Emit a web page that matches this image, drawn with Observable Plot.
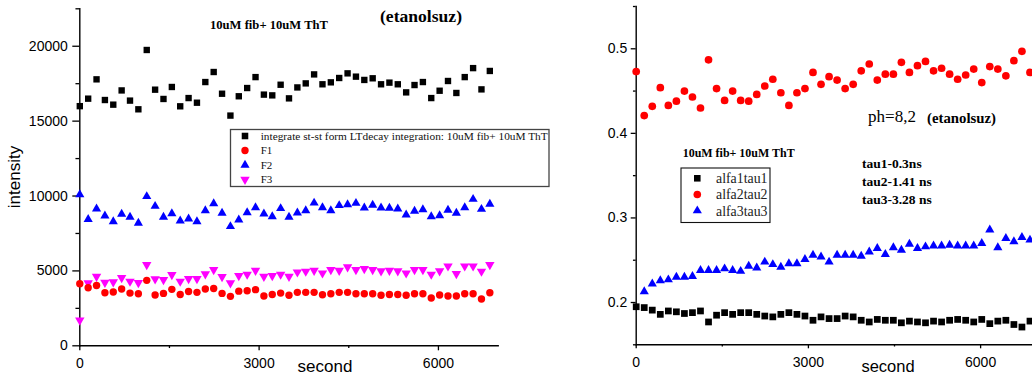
<!DOCTYPE html>
<html>
<head>
<meta charset="utf-8">
<script src="https://cdn.jsdelivr.net/npm/d3@7"></script>
<script src="https://cdn.jsdelivr.net/npm/@observablehq/plot@0.6"></script>
<style>
  html, body { margin: 0; padding: 0; background: #fff; }
  #wrap { position: relative; width: 1032px; height: 376px; overflow: hidden; }
  #wrap > svg { position: absolute; top: 0; max-width: none; }
</style>
</head>
<body>
<div id="wrap"></div>
<script>
// Acquisition times (s), one measurement every 140 s
const seconds = [0,140,280,420,560,700,840,980,1120,1260,1400,1540,1680,1820,1960,2100,2240,2380,2520,2660,2800,2940,3080,3220,3360,3500,3640,3780,3920,4060,4200,4340,4480,4620,4760,4900,5040,5180,5320,5460,5600,5740,5880,6020,6160,6300,6440,6580,6720,6860];

// Left panel: intensities
const integrated = [16000,16500,17790,16410,16100,17050,16370,15790,19750,17100,16480,17280,15990,16540,16230,17610,18280,16830,15370,16660,17210,17940,16770,16720,17430,16520,17250,17520,18120,17460,17590,17880,18190,17970,17750,17860,17460,17570,17460,16920,17410,17610,16540,17030,17680,16880,17940,18540,17120,18350];
const f1 = [4140,3880,4030,3540,3590,3790,3520,3480,4370,3390,3500,3770,3430,3630,3570,3790,3830,3500,3300,3650,3680,3750,3320,3430,3520,3370,3570,3570,3570,3410,3480,3570,3570,3480,3480,3480,3370,3430,3430,3370,3480,3480,3190,3390,3320,3320,3480,3480,3120,3540];
const f2 = [10100,8450,9140,8680,8300,8790,8590,8190,9970,9320,8590,8830,8340,8480,8300,9030,9500,8860,7970,8410,8900,9230,8810,8630,9170,8590,8880,9030,9540,9230,9030,9370,9430,9520,9210,9390,9210,9190,9140,8740,8990,9100,8630,8700,9060,8860,9230,9790,9120,9460];
const f3 = [1700,4190,4630,4230,4260,4540,4300,4210,5410,4460,4410,4740,4300,4480,4480,4790,5080,4610,4190,4680,4770,5030,4630,4680,4770,4630,4920,4970,5030,4850,5080,5030,5260,5080,5140,5080,4990,5030,4990,4850,5080,5080,4770,4990,5320,4810,5320,5320,4970,5410];

// Right panel: amplitude-weighted lifetimes
const alfa1tau1 = [0.195,0.194,0.191,0.186,0.190,0.189,0.187,0.188,0.190,0.177,0.185,0.188,0.186,0.188,0.188,0.186,0.184,0.183,0.186,0.188,0.186,0.184,0.179,0.183,0.181,0.181,0.184,0.183,0.179,0.177,0.180,0.179,0.179,0.176,0.178,0.177,0.176,0.178,0.177,0.179,0.180,0.179,0.177,0.180,0.175,0.178,0.179,0.174,0.171,0.178];
const alfa2tau2 = [0.473,0.421,0.432,0.454,0.433,0.438,0.450,0.443,0.430,0.487,0.453,0.439,0.450,0.439,0.438,0.446,0.456,0.464,0.448,0.433,0.448,0.453,0.472,0.458,0.467,0.463,0.453,0.458,0.474,0.482,0.463,0.470,0.470,0.484,0.472,0.480,0.485,0.474,0.477,0.470,0.464,0.469,0.476,0.460,0.479,0.476,0.468,0.486,0.497,0.472];
const alfa3tau3 = [null,0.213,0.222,0.226,0.227,0.230,0.230,0.231,0.238,0.238,0.238,0.240,0.238,0.237,0.243,0.241,0.248,0.245,0.242,0.246,0.246,0.251,0.256,0.254,0.248,0.256,0.256,0.256,0.255,0.260,0.264,0.257,0.265,0.262,0.269,0.264,0.266,0.267,0.267,0.268,0.267,0.267,0.267,0.270,0.286,0.265,0.276,0.272,0.277,0.274];

// Tick values
const xTicks = [0, 3000, 6000];
const xMinorTicks = [1500, 4500];
const leftYTicks = [0, 5000, 10000, 15000, 20000];
const leftYMinorTicks = [2500, 7500, 12500, 17500, 22500];
const rightYTicks = [0.2, 0.3, 0.4, 0.5];
const rightYMinorTicks = [0.15, 0.25, 0.35, 0.45, 0.55];

// Legend labels
const leftLegend = ["integrate st-st form LTdecay integration:  10uM fib+ 10uM ThT", "F1", "F2", "F3"];
const rightLegend = ["alfa1tau1", "alfa2tau2", "alfa3tau3"];
const tauNotes = ["tau1-0.3ns", "tau2-1.41 ns", "tau3-3.28 ns"];

const rowsOf = (vals) => seconds.map((s, i) => ({s, v: vals[i]})).filter(d => d.v != null);
const plain = (d) => String(d);

const SANS = "'Liberation Sans', Arial, sans-serif";
const SERIF = "'Liberation Serif', 'Times New Roman', serif";
const baseStyle = {fontFamily: SANS, fontSize: "14px", color: "#000", background: "transparent", overflow: "visible"};

function axes(yMajor, yMinor, yTickSize, yPad, xTickSize, xPad) {
  return [
    Plot.axisY(yMajor, {tickSize: yTickSize, tickPadding: yPad, tickFormat: plain, strokeWidth: 1.3, label: null}),
    Plot.axisY(yMinor, {tickSize: yTickSize * 0.55, tickFormat: () => "", strokeWidth: 1.3, label: null}),
    Plot.axisX(xTicks, {tickSize: xTickSize, tickPadding: xPad, tickFormat: plain, strokeWidth: 1.3, label: null}),
    Plot.axisX(xMinorTicks, {tickSize: xTickSize * 0.55, tickFormat: () => "", strokeWidth: 1.3, label: null}),
    Plot.frame({anchor: "left", strokeWidth: 1.4}),
    Plot.frame({anchor: "bottom", strokeWidth: 1.4})
  ];
}

const leftPlot = Plot.plot({
  width: 540, height: 376,
  marginLeft: 79.3, marginRight: 42.3, marginTop: 8.3, marginBottom: 30.7,
  style: baseStyle,
  x: {domain: [0, 7000]},
  y: {domain: [0, 22500]},
  marks: [
    ...axes(leftYTicks, leftYMinorTicks, 7, 5, 5, 7.5),
    Plot.dot(rowsOf(integrated), {x: "s", y: "v", symbol: "square", r: 3.6, fill: "#000"}),
    Plot.dot(rowsOf(f2), {x: "s", y: "v", symbol: "triangle", r: 3.4, fill: "#0000ff"}),
    Plot.dot(rowsOf(f3), {x: "s", y: "v", symbol: "triangle", rotate: 180, r: 3.5, fill: "#ff00ff"}),
    Plot.dot(rowsOf(f1), {x: "s", y: "v", symbol: "circle", r: 3.7, fill: "#ff0000"})
  ]
});
leftPlot.style.left = "0px";

const rightPlot = Plot.plot({
  width: 492, height: 376,
  marginLeft: 95.7, marginRight: 0, marginTop: 6, marginBottom: 31.7,
  style: baseStyle,
  x: {domain: [0, 6904]},
  y: {domain: [0.15, 0.55]},
  marks: [
    ...axes(rightYTicks, rightYMinorTicks, 5, 4, 4, 8.7),
    Plot.dot(rowsOf(alfa1tau1), {x: "s", y: "v", symbol: "square", r: 3.8, fill: "#000"}),
    Plot.dot(rowsOf(alfa3tau3), {x: "s", y: "v", symbol: "triangle", r: 3.4, fill: "#0000ff"}),
    Plot.dot(rowsOf(alfa2tau2), {x: "s", y: "v", symbol: "circle", r: 3.85, fill: "#ff0000"})
  ]
});
rightPlot.style.left = "540px";

const wrap = document.getElementById("wrap");
wrap.appendChild(leftPlot);
wrap.appendChild(rightPlot);

// Annotations, axis titles and legends
const ann = d3.create("svg")
  .attr("width", 1032).attr("height", 376)
  .style("position", "absolute").style("left", "0px").style("top", "0px");

function txt(x, y, s, opts = {}) {
  const t = ann.append("text")
    .attr("x", x).attr("y", y)
    .attr("font-family", opts.family || SERIF)
    .attr("font-size", opts.size || 12)
    .attr("font-weight", opts.bold ? "bold" : "normal")
    .attr("fill", opts.fill || "#000")
    .attr("text-anchor", opts.anchor || "start")
    .text(s);
  if (opts.length) t.attr("textLength", opts.length).attr("lengthAdjust", "spacingAndGlyphs");
  if (opts.rotate) t.attr("transform", `rotate(${opts.rotate},${x},${y})`);
  return t;
}

function sym(x, y, type, r, fill, rotate = 0) {
  ann.append("path")
    .attr("d", d3.symbol(type, Math.PI * r * r)())
    .attr("transform", `translate(${x},${y}) rotate(${rotate})`)
    .attr("fill", fill);
}

// axis titles
txt(20, 177, "intensity", {family: SANS, size: 17, anchor: "middle", rotate: -90});
txt(325, 372, "second", {family: SANS, size: 17, anchor: "middle"});
txt(888, 372, "second", {family: SANS, size: 16.5, anchor: "middle"});

// left panel headings
txt(210, 29, "10uM fib+ 10uM ThT", {bold: true, size: 12.5, length: 118});
txt(380, 22, "(etanolsuz)", {bold: true, size: 17, length: 82});

// left legend
ann.append("rect").attr("x", 230.5).attr("y", 129.5).attr("width", 318.5).attr("height", 57)
  .attr("fill", "#fff").attr("stroke", "#444").attr("stroke-width", 1.3);
const leftRowsY = [136, 150.5, 165, 179.5];
const leftSyms = [[d3.symbolSquare, 3.7, "#000", 0], [d3.symbolCircle, 3.7, "#ff0000", 0], [d3.symbolTriangle, 3.4, "#0000ff", 0], [d3.symbolTriangle, 3.5, "#ff00ff", 180]];
leftLegend.forEach((label, i) => {
  const [type, r, fill, rot] = leftSyms[i];
  sym(245, leftRowsY[i], type, r, fill, rot);
  txt(260.7, leftRowsY[i] + 3.8, label, {size: 11, fill: "#111", length: i === 0 ? 287 : null});
});

// right panel headings
txt(868, 121.5, "ph=8,2", {size: 16.5, length: 48});
txt(927, 122.5, "(etanolsuz)", {bold: true, size: 14, length: 69});
txt(682.7, 157.3, "10uM fib+ 10uM ThT", {bold: true, size: 12, length: 112});
const tauY = [168, 186, 204];
tauNotes.forEach((s, i) => txt(862, tauY[i], s, {bold: true, size: 13.5}));

// right legend
ann.append("rect").attr("x", 681).attr("y", 168).attr("width", 89).attr("height", 54.5)
  .attr("fill", "#fff").attr("stroke", "#111").attr("stroke-width", 1.1);
const rightRowsY = [178.3, 194.5, 210.7];
const rightSyms = [[d3.symbolSquare, 3.7, "#000"], [d3.symbolCircle, 3.8, "#ff0000"], [d3.symbolTriangle, 3.4, "#0000ff"]];
rightLegend.forEach((label, i) => {
  const [type, r, fill] = rightSyms[i];
  sym(697.3, rightRowsY[i], type, r, fill);
  txt(716, rightRowsY[i] + 4.8, label, {size: 14, fill: "#222", length: 51.5});
});

wrap.appendChild(ann.node());
</script>
</body>
</html>
